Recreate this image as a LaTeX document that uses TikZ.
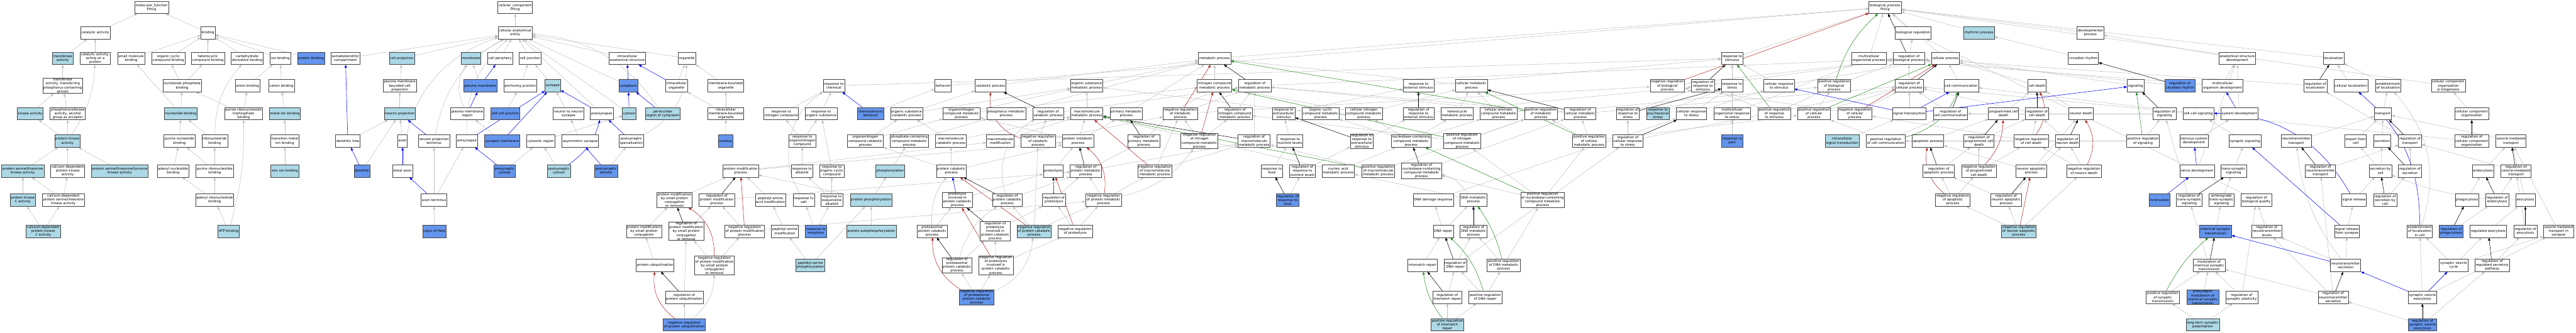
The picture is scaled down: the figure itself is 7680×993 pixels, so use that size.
\documentclass[tikz,border=0pt]{standalone}
\usepackage{fontspec}
\newfontfamily\gofont{DejaVu Sans}
\usetikzlibrary{arrows.meta}
\definecolor{lbfill}{HTML}{ADD8E6}
\definecolor{cbfill}{HTML}{6495ED}
\definecolor{edgegrey}{HTML}{C0C0C0}
\definecolor{edgered}{HTML}{B22222}
\definecolor{edgegreen}{HTML}{228B22}
\pgfdeclarelayer{bg}
\pgfsetlayers{bg,main}
\tikzset{
 nd/.style={draw=black!75, line width=1.1pt, fill=white, font=\gofont\fontsize{10}{11.4}\selectfont, align=center, inner xsep=2.5pt, inner ysep=1pt, minimum height=37pt},
 lb/.style={nd, fill=lbfill},
 cb/.style={nd, fill=cbfill},
 eg/.style={draw=edgegrey, line width=1pt, -{Triangle[length=9pt,width=7pt]}},
 ek/.style={eg, draw=black},
 er/.style={eg, draw=edgered},
 en/.style={eg, draw=edgegreen},
 eb/.style={eg, draw=blue},
}
\def\rA{22}\def\rB{98}\def\rC{174}\def\rD{256}\def\rE{339}\def\rF{421}
\def\rG{510}\def\rH{597}\def\rI{690}\def\rJ{792}\def\rK{887}\def\rL{969}
\begin{document}
\begin{tikzpicture}[x=1pt,y=-1pt]
\useasboundingbox (0,0) rectangle (7680,993);
% ---------------- molecular function
\node[nd] (mf) at (452,\rA) {molecular\_function\\Prkcg};
\node[nd] (catalytic) at (284,\rB) {catalytic activity};
\node[nd] (binding) at (620,\rB) {binding};
\node[lb] (transferase) at (187,\rC) {transferase\\activity};
\node[nd] (catprot) at (284,\rC) {catalytic activity,\\acting on a\\protein};
\node[nd] (smallmol) at (391,\rC) {small molecule\\binding};
\node[nd] (orgcyc) at (502,\rC) {organic cyclic\\compound binding};
\node[nd] (hetcyc) at (620,\rC) {heterocyclic\\compound binding};
\node[nd] (carbo) at (737,\rC) {carbohydrate\\derivative binding};
\node[nd] (ionb) at (836,\rC) {ion binding};
\node[cb] (protbind) at (927,\rC) {protein binding};
\node[nd] (transphos) at (187,\rD) {transferase\\activity, transferring\\phosphorus-containing\\groups};
\node[nd] (nucphos) at (543,\rD) {nucleoside phosphate\\binding};
\node[nd] (anion) at (738,\rD) {anion binding};
\node[nd] (cation) at (839,\rD) {cation binding};
\node[lb] (kinase) at (90,\rE) {kinase activity};
\node[nd] (phosphotrans) at (202,\rE) {phosphotransferase\\activity, alcohol\\group as acceptor};
\node[lb] (nucbind) at (539,\rE) {nucleotide binding};
\node[nd] (prtb) at (726,\rE) {purine ribonucleoside\\triphosphate\\binding};
\node[lb] (metal) at (849,\rE) {metal ion binding};
\node[lb] (protkin) at (201,\rF) {protein kinase\\activity};
\node[nd] (purnuc) at (535,\rF) {purine nucleotide\\binding};
\node[nd] (ribonuc) at (640,\rF) {ribonucleotide\\binding};
\node[nd] (transmetal) at (849,\rF) {transition metal\\ion binding};
\node[lb] (pst) at (68,\rG) {protein serine/threonine\\kinase activity};
\node[nd] (cadpk) at (202,\rG) {calcium-dependent\\protein kinase\\activity};
\node[lb] (pstt) at (357,\rG) {protein serine/threonine/tyrosine\\kinase activity};
\node[nd] (adenyl) at (516,\rG) {adenyl nucleotide\\binding};
\node[nd] (purribo) at (640,\rG) {purine ribonucleotide\\binding};
\node[lb] (zinc) at (849,\rG) {zinc ion binding};
\node[lb] (pkc) at (68,\rH) {protein kinase\\C activity};
\node[nd] (cadpst) at (189,\rH) {calcium-dependent\\protein serine/threonine\\kinase activity};
\node[nd] (adenylribo) at (640,\rH) {adenyl ribonucleotide\\binding};
\node[lb] (cadpkc) at (129,\rI) {calcium-dependent\\protein kinase\\C activity};
\node[lb] (atp) at (682,\rI) {ATP binding};
% ---------------- cellular component
\node[nd] (cc) at (1536,\rA) {cellular\_component\\Prkcg};
\node[nd] (cae) at (1536,\rB) {cellular anatomical\\entity};
\node[nd] (somato) at (1030,\rC) {somatodendritic\\compartment};
\node[lb] (cellproj) at (1198,\rC) {cell projection};
\node[lb] (membrane) at (1404,\rC) {membrane};
\node[nd] (cellperiph) at (1491,\rC) {cell periphery};
\node[nd] (celljunc) at (1580,\rC) {cell junction};
\node[nd] (intracell) at (1870,\rC) {intracellular\\anatomical structure};
\node[nd] (organelle) at (2048,\rC) {organelle};
\node[nd] (pmbcp) at (1192,\rD) {plasma membrane\\bounded cell\\projection};
\node[cb] (plasmamem) at (1432,\rD) {plasma membrane};
\node[nd] (anchor) at (1551,\rD) {anchoring junction};
\node[lb] (synapse) at (1648,\rD) {synapse};
\node[cb] (cytoplasm) at (1873,\rD) {cytoplasm};
\node[nd] (intorg) at (2017,\rD) {intracellular\\organelle};
\node[nd] (mbo) at (2164,\rD) {membrane-bounded\\organelle};
\node[lb] (neuproj) at (1192,\rE) {neuron projection};
\node[nd] (pmr) at (1393,\rE) {plasma membrane\\region};
\node[cb] (cellcell) at (1506,\rE) {cell-cell junction};
\node[nd] (n2n) at (1695,\rE) {neuron to neuron\\synapse};
\node[nd] (postsyn) at (1794,\rE) {postsynapse};
\node[lb] (cytosol) at (1876,\rE) {cytosol};
\node[lb] (perinuc) at (1976,\rE) {perinuclear\\region of cytoplasm};
\node[nd] (imbo) at (2164,\rE) {intracellular\\membrane-bounded\\organelle};
\node[nd] (dendtree) at (1037,\rF) {dendritic tree};
\node[nd] (axon) at (1200,\rF) {axon};
\node[nd] (neuprojterm) at (1294,\rF) {neuron projection\\terminus};
\node[nd] (presyn) at (1392,\rF) {presynapse};
\node[cb] (synmem) at (1497,\rF) {synaptic membrane};
\node[nd] (cytoreg) at (1612,\rF) {cytosolic region};
\node[nd] (asym) at (1730,\rF) {asymmetric synapse};
\node[nd] (pss) at (1882,\rF) {postsynaptic\\specialization};
\node[cb] (nucleus) at (2163,\rF) {nucleus};
\node[cb] (dendrite) at (1079,\rG) {dendrite};
\node[nd] (distaxon) at (1200,\rG) {distal axon};
\node[cb] (precyto) at (1504,\rG) {presynaptic\\cytosol};
\node[lb] (postcyto) at (1666,\rG) {postsynaptic\\cytosol};
\node[cb] (psd) at (1807,\rG) {postsynaptic\\density};
\node[nd] (axonterm) at (1294,\rH) {axon terminus};
\node[cb] (calyx) at (1295,\rI) {calyx of Held};
% ---------------- protein modification / responses
\node[nd] (pmsmall) at (1920,\rI) {protein modification\\by small protein\\conjugation};
\node[nd] (protubiq) at (1953,\rJ) {protein ubiquitination};
\node[nd] (protmod) at (2208,\rG) {protein modification\\process};
\node[nd] (pmsmallrem) at (2011,\rH) {protein modification\\by small protein\\conjugation\\or removal};
\node[nd] (regpm) at (2137,\rH) {regulation of\\protein modification\\process};
\node[nd] (peptaa) at (2297,\rH) {peptidyl-amino\\acid modification};
\node[nd] (regpmsmall) at (2046,\rI) {regulation of\\protein modification\\by small protein\\conjugation\\or removal};
\node[nd] (negregpm) at (2220,\rI) {negative regulation\\of protein modification\\process};
\node[nd] (peptser) at (2340,\rI) {peptidyl-serine\\modification};
\node[nd] (negregpmsmall) at (2130,\rJ) {negative regulation\\of protein modification\\by small protein\\conjugation\\or removal};
\node[lb] (peptserphos) at (2416,\rJ) {peptidyl-serine\\phosphorylation};
\node[nd] (regprotubiq) at (2040,\rK) {regulation of\\protein ubiquitination};
\node[cb] (negregprotubiq) at (2040,\rL) {negative regulation\\of protein ubiquitination};
\node[nd] (resp_chem) at (2486,\rD) {response to\\chemical};
\node[nd] (resp_nitro) at (2329,\rE) {response to\\nitrogen compound};
\node[nd] (resp_orgsub) at (2448,\rE) {response to\\organic substance};
\node[cb] (chemosens) at (2596,\rE) {chemosensory\\behavior};
\node[nd] (resp_orgN) at (2392,\rF) {response to\\organonitrogen\\compound};
\node[nd] (orgNcat) at (2580,\rF) {organonitrogen\\compound catabolic\\process};
\node[nd] (resp_alk) at (2391,\rG) {response to\\alkaloid};
\node[nd] (resp_orgcyc) at (2480,\rG) {response to\\organic cyclic\\compound};
\node[nd] (resp_salt) at (2396,\rH) {response to\\salt};
\node[nd] (resp_isoq) at (2480,\rH) {response to\\isoquinoline\\alkaloid};
\node[lb] (protphos) at (2597,\rH) {protein phosphorylation};
\node[cb] (resp_morph) at (2432,\rI) {response to\\morphine};
\node[lb] (protautophos) at (2598,\rI) {protein autophosphorylation};
% ---------------- catabolism
\node[nd] (behavior) at (2812,\rD) {behavior};
\node[nd] (catab) at (2953,\rD) {catabolic process};
\node[nd] (orgmet) at (3240,\rD) {organic substance\\metabolic process};
\node[nd] (orgsubcat) at (2703,\rE) {organic substance\\catabolic process};
\node[nd] (orgNmet) at (2866,\rE) {organonitrogen\\compound metabolic\\process};
\node[nd] (phosphmet) at (3000,\rE) {phosphorus metabolic\\process};
\node[nd] (regcatab) at (3125,\rE) {regulation of\\catabolic process};
\node[nd] (macmet) at (3240,\rE) {macromolecule\\metabolic process};
\node[nd] (phoscontain) at (2711,\rF) {phosphate-containing\\compound metabolic\\process};
\node[nd] (maccat) at (2835,\rF) {macromolecule\\catabolic process};
\node[nd] (macmod) at (2982,\rF) {macromolecule\\modification};
\node[nd] (negregcat) at (3095,\rF) {negative regulation\\of catabolic\\process};
\node[nd] (protmet) at (3214,\rF) {protein metabolic\\process};
\node[lb] (phosphorylation) at (2654,\rG) {phosphorylation};
\node[nd] (protcat) at (2836,\rG) {protein catabolic\\process};
\node[nd] (proteolysis) at (3140,\rG) {proteolysis};
\node[nd] (regprotmet) at (3237,\rG) {regulation of\\protein metabolic\\process};
\node[nd] (prolyinvolved) at (2854,\rH) {proteolysis\\involved in\\protein catabolic\\process};
\node[nd] (regprotcat) at (3003,\rH) {regulation of\\protein catabolic\\process};
\node[nd] (regproteolysis) at (3142,\rH) {regulation of\\proteolysis};
\node[nd] (negregprotmet) at (3290,\rH) {negative regulation\\of protein metabolic\\process};
\node[nd] (proteasomal) at (2779,\rI) {proteasomal\\protein catabolic\\process};
\node[nd] (regprolyinv) at (2967,\rI) {regulation of\\proteolysis\\involved in\\protein catabolic\\process};
\node[lb] (negregprotcat) at (3083,\rI) {negative regulation\\of protein catabolic\\process};
\node[nd] (negregproteolysis) at (3206,\rI) {negative regulation\\of proteolysis};
\node[nd] (regproteasomal) at (2853,\rJ) {regulation of\\proteasomal\\protein catabolic\\process};
\node[nd] (negregprolyinv) at (2969,\rJ) {negative regulation\\of proteolysis\\involved in\\protein catabolic\\process};
\node[cb] (negregproteasomal) at (2912,\rK) {negative regulation\\of proteasomal\\protein catabolic\\process};
% ---------------- metabolism
\node[nd] (metproc) at (3621,\rC) {metabolic process};
\node[nd] (nitromet) at (3621,\rD) {nitrogen compound\\metabolic process};
\node[nd] (regmet) at (3741,\rD) {regulation of\\metabolic process};
\node[nd] (primmet) at (3358,\rE) {primary metabolic\\process};
\node[nd] (negregmet) at (3519,\rE) {negative regulation\\of metabolic\\process};
\node[nd] (regnitromet) at (3682,\rE) {regulation of\\nitrogen compound\\metabolic process};
\node[nd] (resp_extracell) at (3827,\rE) {response to\\extracellular\\stimulus};
\node[nd] (regprimmet) at (3410,\rF) {regulation of\\primary metabolic\\process};
\node[nd] (negregnitromet) at (3576,\rF) {negative regulation\\of nitrogen\\compound metabolic\\process};
\node[nd] (regmacmet) at (3739,\rF) {regulation of\\macromolecule\\metabolic process};
\node[nd] (resp_nutr) at (3846,\rF) {response to\\nutrient levels};
\node[nd] (negregmacmet) at (3443,\rG) {negative regulation\\of macromolecule\\metabolic process};
\node[nd] (resp_food) at (3792,\rG) {response to\\food};
\node[nd] (regresp_nutr) at (3883,\rG) {regulation of\\response to\\nutrient levels};
\node[cb] (regresp_food) at (3839,\rH) {regulation of\\response to\\food};
\node[nd] (resp_ext) at (4229,\rD) {response to\\external stimulus};
\node[nd] (cellmet) at (4387,\rD) {cellular metabolic\\process};
\node[nd] (orgcycmet) at (3937,\rE) {organic cyclic\\compound metabolic\\process};
\node[nd] (cellNmet) at (4066,\rE) {cellular nitrogen\\compound metabolic\\process};
\node[nd] (regresp_ext) at (4229,\rE) {regulation of\\response to\\external stimulus};
\node[nd] (hetmet) at (4344,\rE) {heterocycle\\metabolic process};
\node[nd] (cellarom) at (4468,\rE) {cellular aromatic\\compound metabolic\\process};
\node[nd] (regresp_extracell) at (4060,\rF) {regulation of\\response to\\extracellular\\stimulus};
\node[nd] (nucleobase) at (4207,\rF) {nucleobase-containing\\compound metabolic\\process};
\node[nd] (posregnitro) at (4359,\rF) {positive regulation\\of nitrogen\\compound metabolic\\process};
\node[nd] (nucacid) at (3990,\rG) {nucleic acid\\metabolic process};
\node[nd] (posregmacmet) at (4109,\rG) {positive regulation\\of macromolecule\\metabolic process};
\node[nd] (regnucleobase) at (4238,\rG) {regulation of\\nucleobase-containing\\compound metabolic\\process};
\node[nd] (dnadamage) at (4273,\rH) {DNA damage response};
\node[nd] (dnamet) at (4393,\rH) {DNA metabolic\\process};
\node[nd] (dnarepair) at (4303,\rI) {DNA repair};
\node[nd] (regdnamet) at (4393,\rI) {regulation of\\DNA metabolic\\process};
\node[nd] (mismatch) at (4241,\rJ) {mismatch repair};
\node[nd] (regdnarepair) at (4339,\rJ) {regulation of\\DNA repair};
\node[nd] (posregdnamet) at (4483,\rJ) {positive regulation\\of DNA metabolic\\process};
\node[nd] (regmismatch) at (4315,\rK) {regulation of\\mismatch repair};
\node[nd] (posregdnarepair) at (4428,\rK) {positive regulation\\of DNA repair};
\node[lb] (posregmismatch) at (4315,\rL) {positive regulation\\of mismatch\\repair};
\node[nd] (negregbio) at (4971,\rD) {negative regulation\\of biological\\process};
\node[nd] (regresp_stim) at (5077,\rD) {regulation of\\response to\\stimulus};
\node[nd] (posregmet) at (4594,\rE) {positive regulation\\of metabolic\\process};
\node[nd] (regcellmet) at (4711,\rE) {regulation of\\cellular metabolic\\process};
\node[nd] (regresp_stress) at (4853,\rE) {regulation of\\response to\\stress};
\node[lb] (resp_psycho) at (4943,\rE) {response to\\psychosocial\\stress};
\node[nd] (cellresp_stress) at (5043,\rE) {cellular response\\to stress};
\node[nd] (multiorgresp) at (5164,\rE) {multicellular\\organismal response\\to stress};
\node[nd] (posregcellmet) at (4738,\rF) {positive regulation\\of cellular\\metabolic process};
\node[nd] (regcellresp_stress) at (4853,\rF) {regulation of\\cellular response\\to stress};
\node[nd] (posregnucleobase) at (4599,\rH) {positive regulation\\of nucleobase-containing\\compound metabolic\\process};
% ---------------- biological process
\node[nd] (bp) at (5620,\rA) {biological\_process\\Prkcg};
\node[nd] (bioreg) at (5704,\rB) {biological regulation};
\node[nd] (resp_stim) at (5164,\rC) {response to\\stimulus};
\node[nd] (multiorg) at (5572,\rC) {multicellular\\organismal process};
\node[nd] (regbio) at (5691,\rC) {regulation of\\biological process};
\node[nd] (cellproc) at (5800,\rC) {cellular process};
\node[nd] (resp_stress) at (5164,\rD) {response to\\stress};
\node[nd] (cellresp_stim) at (5304,\rD) {cellular response\\to stimulus};
\node[nd] (posregbio) at (5468,\rD) {positive regulation\\of biological\\process};
\node[nd] (regcellproc) at (5692,\rD) {regulation of\\cellular process};
\node[nd] (posregresp) at (5290,\rE) {positive regulation\\of response\\to stimulus};
\node[nd] (posregcellproc) at (5408,\rE) {positive regulation\\of cellular\\process};
\node[nd] (negregcellproc) at (5530,\rE) {negative regulation\\of cellular\\process};
\node[nd] (sigtrans) at (5692,\rE) {signal transduction};
\node[cb] (resp_pain) at (5164,\rF) {response to\\pain};
\node[lb] (intrasig) at (5492,\rF) {intracellular\\signal transduction};
\node[nd] (posregcellcomm) at (5622,\rF) {positive regulation\\of cell communication};
\node[nd] (apoptotic) at (5748,\rF) {apoptotic process};
\node[nd] (regapop) at (5780,\rG) {regulation of\\apoptotic process};
\node[lb] (rhythmic) at (5900,\rB) {rhythmic process};
\node[nd] (devproc) at (6232,\rB) {developmental\\process};
\node[nd] (circadian) at (6211,\rC) {circadian rhythm};
\node[nd] (cellcomm) at (5847,\rD) {cell communication};
\node[nd] (celldeath) at (6073,\rD) {cell death};
\node[nd] (signaling) at (6367,\rD) {signaling};
\node[nd] (regcellcomm) at (5815,\rE) {regulation of\\cell communication};
\node[nd] (pcd) at (5973,\rE) {programmed cell\\death};
\node[nd] (regcelldeath) at (6073,\rE) {regulation of\\cell death};
\node[nd] (neurondeath) at (6204,\rE) {neuron death};
\node[nd] (regpcd) at (5900,\rF) {regulation of\\programmed cell\\death};
\node[nd] (negregcelldeath) at (6056,\rF) {negative regulation\\of cell death};
\node[nd] (regneurondeath) at (6164,\rF) {regulation of\\neuron death};
\node[nd] (posregsig) at (6389,\rF) {positive regulation\\of signaling};
\node[nd] (negregpcd) at (5900,\rG) {negative regulation\\of programmed\\cell death};
\node[nd] (neuronapop) at (6056,\rG) {neuron apoptotic\\process};
\node[nd] (negregneurondeath) at (6213,\rG) {negative regulation\\of neuron death};
\node[nd] (negregapop) at (5822,\rH) {negative regulation\\of apoptotic\\process};
\node[nd] (regneuronapop) at (5981,\rH) {regulation of\\neuron apoptotic\\process};
\node[lb] (negregneuronapop) at (6019,\rI) {negative regulation\\of neuron apoptotic\\process};
% ---------------- development / synapse
\node[nd] (anatdev) at (6670,\rC) {anatomical structure\\development};
\node[nd] (localization) at (6957,\rC) {localization};
\node[cb] (regcirc) at (6499,\rD) {regulation of\\circadian rhythm};
\node[nd] (multidev) at (6626,\rD) {multicellular\\organism development};
\node[nd] (regloc) at (6903,\rD) {regulation of\\localization};
\node[nd] (cellloc) at (7009,\rD) {cellular localization};
\node[nd] (regsig) at (6453,\rE) {regulation of\\signaling};
\node[nd] (cellcellsig) at (6554,\rE) {cell-cell signaling};
\node[nd] (sysdev) at (6676,\rE) {system development};
\node[nd] (nsdev) at (6541,\rF) {nervous system\\development};
\node[nd] (synsig) at (6693,\rF) {synaptic signaling};
\node[nd] (nttransport) at (6846,\rF) {neurotransmitter\\transport};
\node[nd] (exportcell) at (7023,\rF) {export from\\cell};
\node[nd] (nervedev) at (6550,\rG) {nerve development};
\node[nd] (transsyn) at (6659,\rG) {trans-synaptic\\signaling};
\node[nd] (regnttrans) at (6918,\rG) {regulation of\\neurotransmitter\\transport};
\node[cb] (innervation) at (6438,\rH) {innervation};
\node[nd] (regtranssyn) at (6527,\rH) {regulation of\\trans-synaptic\\signaling};
\node[nd] (anterograde) at (6623,\rH) {anterograde\\trans-synaptic\\signaling};
\node[nd] (regbioqual) at (6727,\rH) {regulation of\\biological quality};
\node[nd] (sigrelease) at (7018,\rH) {signal release};
\node[cb] (chemsyn) at (6605,\rI) {chemical synaptic\\transmission};
\node[nd] (regntlevels) at (6758,\rI) {regulation of\\neurotransmitter\\levels};
\node[nd] (sigrelsyn) at (6997,\rI) {signal release\\from synapse};
\node[nd] (modchem) at (6586,\rJ) {modulation of\\chemical synaptic\\transmission};
\node[nd] (ntsecretion) at (6993,\rJ) {neurotransmitter\\secretion};
\node[nd] (posregsyntrans) at (6448,\rK) {positive regulation\\of synaptic\\transmission};
\node[cb] (presynmod) at (6567,\rK) {presynaptic\\modulation of\\chemical synaptic\\transmission};
\node[nd] (regsynplast) at (6683,\rK) {regulation of\\synaptic plasticity};
\node[nd] (regntsec) at (6956,\rK) {regulation of\\neurotransmitter\\secretion};
\node[lb] (ltp) at (6567,\rL) {long-term synaptic\\potentiation};
\node[nd] (estloc) at (7120,\rD) {establishment\\of localization};
\node[nd] (ccob) at (7299,\rD) {cellular component\\organization\\or biogenesis};
\node[nd] (transport) at (7104,\rE) {transport};
\node[nd] (cco) at (7369,\rE) {cellular component\\organization};
\node[nd] (secretion) at (7102,\rF) {secretion};
\node[nd] (regtransport) at (7185,\rF) {regulation of\\transport};
\node[nd] (regcco) at (7369,\rF) {regulation of\\cellular component\\organization};
\node[nd] (vesmed) at (7486,\rF) {vesicle-mediated\\transport};
\node[nd] (secbycell) at (7097,\rG) {secretion by\\cell};
\node[nd] (regsecretion) at (7185,\rG) {regulation of\\secretion};
\node[nd] (endocytosis) at (7403,\rG) {endocytosis};
\node[nd] (regvesmed) at (7501,\rG) {regulation of\\vesicle-mediated\\transport};
\node[nd] (regsecbycell) at (7111,\rH) {regulation of\\secretion by\\cell};
\node[nd] (phagocytosis) at (7355,\rH) {phagocytosis};
\node[nd] (regendo) at (7445,\rH) {regulation of\\endocytosis};
\node[nd] (exocytosis) at (7529,\rH) {exocytosis};
\node[nd] (estlocincell) at (7214,\rI) {establishment\\of localization\\in cell};
\node[cb] (regphago) at (7308,\rI) {regulation of\\phagocytosis};
\node[nd] (regulatedexo) at (7418,\rI) {regulated exocytosis};
\node[nd] (regexo) at (7529,\rI) {regulation of\\exocytosis};
\node[nd] (vesmedsyn) at (7628,\rI) {vesicle-mediated\\transport in\\synapse};
\node[nd] (synvescycle) at (7315,\rJ) {synaptic vesicle\\cycle};
\node[nd] (regregsec) at (7430,\rJ) {regulation of\\regulated secretory\\pathway};
\node[nd] (synvesexo) at (7222,\rK) {synaptic vesicle\\exocytosis};
\node[cb] (regsynvesexo) at (7222,\rL) {regulation of\\synaptic vesicle\\exocytosis};
% ================= edges
\begin{pgfonlayer}{bg}
\foreach \a/\b in {catalytic/mf, binding/mf, transferase/catalytic, catprot/catalytic, smallmol/binding, orgcyc/binding, hetcyc/binding, carbo/binding, ionb/binding, protbind/binding, transphos/transferase, nucphos/orgcyc, nucphos/hetcyc, kinase/transphos, phosphotrans/transphos, nucbind/nucphos, nucbind/smallmol, purnuc/nucbind, ribonuc/nucbind, protkin/kinase, protkin/phosphotrans, pst/protkin, cadpk/protkin, pstt/protkin, adenyl/purnuc, purribo/purnuc, purribo/ribonuc, pkc/pst, cadpst/pst, cadpst/cadpk, adenylribo/adenyl, adenylribo/purribo, cadpkc/pkc, cadpkc/cadpst, anion/ionb, cation/ionb, prtb/anion, prtb/nucphos, metal/cation, transmetal/metal, zinc/transmetal, atp/adenylribo,
cae/cc, membrane/cae, cellperiph/cae, celljunc/cae, somato/cae, cellproj/cae, intracell/cae, organelle/cae, pmbcp/cellproj, neuproj/pmbcp, dendtree/neuproj, axon/neuproj, dendrite/neuproj, axonterm/neuprojterm, axonterm/presyn, calyx/axonterm, plasmamem/membrane, anchor/celljunc, synapse/celljunc, cellcell/anchor, n2n/synapse, postsyn/cae, cytoplasm/cae, cytosol/cae, synmem/pmr, cytoreg/cytosol, asym/n2n, precyto/cytoreg, postcyto/cytoreg, psd/pss, intorg/organelle, mbo/organelle, imbo/intorg, imbo/mbo, nucleus/imbo}
 {\draw[eg] (\a) -- (\b);}
\foreach \a/\b in {resp_nitro/resp_chem, resp_orgsub/resp_chem, resp_chem/resp_stim, resp_orgN/resp_nitro, resp_orgN/resp_orgsub, resp_orgcyc/resp_orgsub, resp_alk/resp_orgN, resp_isoq/resp_alk, resp_isoq/resp_orgcyc, resp_morph/resp_salt, resp_morph/resp_isoq, protmod/macmod, protmod/protmet, pmsmallrem/protmod, regpm/regprotmet, negregpm/regpm, negregpm/negregprotmet, peptaa/protmod, protphos/protmod, protphos/phosphorylation, pmsmall/pmsmallrem, regpmsmall/regpm, negregpmsmall/regpmsmall, negregpmsmall/negregpm, peptser/peptaa, peptserphos/peptser, peptserphos/protphos, protubiq/pmsmall, regprotubiq/regpmsmall, negregprotubiq/regprotubiq, protautophos/protphos, chemosens/behavior, behavior/bp, orgsubcat/catab, orgsubcat/orgmet, orgNmet/orgmet, orgNmet/nitromet, catab/metproc, regcatab/regmet, negregcat/regcatab, negregcat/negregmet, orgNcat/orgsubcat, orgNcat/orgNmet, phosphorylation/phoscontain, phoscontain/phosphmet, phosphmet/metproc, maccat/orgsubcat, maccat/macmet, macmod/macmet, protcat/maccat, protcat/orgNcat, protcat/protmet, proteolysis/protmet, prolyinvolved/proteolysis, regprotcat/regprotmet, regproteolysis/regprotmet, proteasomal/prolyinvolved, regprolyinv/regproteolysis, negregprotcat/regprotcat, negregprotcat/negregcat, negregprotcat/negregprotmet, negregproteolysis/regproteolysis, negregproteolysis/negregprotmet, regproteasomal/regprolyinv, negregprolyinv/regprolyinv, negregprolyinv/negregproteolysis, negregproteasomal/regproteasomal, negregproteasomal/negregprolyinv}
 {\draw[eg] (\a) -- (\b);}
\foreach \a/\b in {orgmet/metproc, nitromet/metproc, metproc/bp, regmet/regbio, macmet/orgmet, primmet/metproc, negregmet/regmet, negregmet/negregbio, regnitromet/regmet, protmet/macmet, protmet/orgNmet, protmet/primmet, negregnitromet/regnitromet, negregnitromet/negregmet, regmacmet/regmet, regprotmet/regmacmet, regprotmet/regprimmet, negregmacmet/regmacmet, negregmacmet/negregmet, negregprotmet/regprotmet, negregprotmet/negregmacmet, resp_food/resp_nutr, regresp_food/regresp_nutr, resp_nutr/resp_extracell, resp_extracell/resp_ext, resp_ext/resp_stim, cellmet/metproc, regresp_ext/regresp_stim, hetmet/cellmet, cellarom/cellmet, cellNmet/cellmet, cellNmet/nitromet, orgcycmet/orgmet, regresp_extracell/regresp_ext, nucleobase/cellNmet, nucleobase/hetmet, nucleobase/cellarom, nucleobase/orgcycmet, posregnitro/regnitromet, posregnitro/posregmet, regresp_nutr/regresp_extracell, nucacid/nucleobase, nucacid/macmet, posregmacmet/regmacmet, posregmacmet/posregmet, regnucleobase/regcellmet, dnadamage/cellresp_stress, dnamet/nucacid, dnarepair/dnadamage, dnarepair/dnamet, mismatch/dnarepair, regdnarepair/regdnamet, regdnarepair/regcellresp_stress, posregdnamet/regdnamet, posregdnamet/posregnucleobase, regmismatch/regdnarepair, posregdnarepair/regdnarepair, posregdnarepair/posregdnamet, posregmismatch/regmismatch, posregmismatch/posregdnarepair,
negregbio/regbio, regresp_stim/regbio, posregmet/regmet, posregmet/posregbio, regcellmet/regmet, regcellmet/regcellproc, regresp_stress/regresp_stim, resp_psycho/resp_stress, cellresp_stress/resp_stress, cellresp_stress/cellresp_stim, posregcellmet/regcellmet, posregcellmet/posregmet, posregcellmet/posregcellproc, regcellresp_stress/regresp_stress, regcellresp_stress/regcellproc, posregnucleobase/regnucleobase, posregnucleobase/posregcellmet, posregnucleobase/posregnitro, multiorgresp/resp_stress, multiorgresp/multiorg}
 {\draw[eg] (\a) -- (\b);}
\foreach \a/\b in {bioreg/bp, resp_stim/bp, multiorg/bp, regbio/bioreg, cellproc/bp, resp_stress/resp_stim, cellresp_stim/resp_stim, cellresp_stim/cellproc, posregbio/regbio, regcellproc/regbio, posregresp/regresp_stim, posregresp/posregbio, posregcellproc/regcellproc, posregcellproc/posregbio, negregcellproc/regcellproc, negregcellproc/negregbio, sigtrans/regcellproc, resp_pain/multiorgresp, intrasig/sigtrans, posregcellcomm/regcellcomm, posregcellcomm/posregcellproc, apoptotic/pcd, regapop/regpcd,
rhythmic/bp, devproc/bp, circadian/rhythmic, cellcomm/cellproc, celldeath/cellproc, signaling/cellproc, regcellcomm/regcellproc, pcd/celldeath, regcelldeath/regcellproc, neurondeath/celldeath, regpcd/regcelldeath, negregcelldeath/regcelldeath, negregcelldeath/negregcellproc, regneurondeath/regcelldeath, posregsig/regsig, posregsig/posregcellcomm, negregpcd/regpcd, negregpcd/negregcelldeath, neuronapop/apoptotic, neuronapop/neurondeath, negregneurondeath/regneurondeath, negregneurondeath/negregcelldeath, negregapop/regapop, negregapop/negregpcd, regneuronapop/regapop, regneuronapop/regneurondeath, negregneuronapop/regneuronapop, negregneuronapop/negregapop, negregneuronapop/negregneurondeath,
anatdev/devproc, localization/bp, regcirc/regbio, multidev/anatdev, multidev/multiorg, regloc/regbio, cellloc/localization, regsig/regcellcomm, cellcellsig/cellcomm, sysdev/anatdev, nsdev/sysdev, synsig/cellcellsig, nttransport/transport, exportcell/transport, nervedev/anatdev, transsyn/synsig, regnttrans/regtransport, regtranssyn/regsig, anterograde/transsyn, regbioqual/bioreg, chemsyn/anterograde, regntlevels/regbioqual, sigrelsyn/sigrelease, modchem/regtranssyn, ntsecretion/sigrelsyn, ntsecretion/regntlevels, posregsyntrans/modchem, presynmod/modchem, regsynplast/modchem, regsynplast/regbioqual, regntsec/regntlevels, regntsec/regnttrans, regntsec/modchem, ltp/posregsyntrans, ltp/regsynplast, sigrelease/secbycell,
estloc/localization, ccob/bp, transport/estloc, cco/ccob, secretion/transport, regtransport/regloc, regcco/regcellproc, vesmed/transport, secbycell/secretion, secbycell/exportcell, regsecretion/regtransport, endocytosis/vesmed, regvesmed/regtransport, regsecbycell/regsecretion, phagocytosis/endocytosis, regendo/regvesmed, exocytosis/vesmed, regphago/regendo, regulatedexo/exocytosis, regexo/regvesmed, vesmedsyn/vesmed, synvescycle/estlocincell, synvescycle/vesmedsyn, regregsec/regexo, synvesexo/estlocincell, synvesexo/regulatedexo, synvesexo/vesmedsyn, regsynvesexo/regregsec, regsynvesexo/regntsec}
 {\draw[eg] (\a) -- (\b);}
\foreach \a/\b/\c in {protkin/catprot/-15, ribonuc/carbo/20, atp/prtb/-8, distaxon/cae/35, pmr/membrane/30, presyn/cae/25, neuprojterm/cae/25, perinuc/cae/-25, pss/organelle/-30, resp_salt/resp_chem/45, regprotcat/regcatab/40, proteasomal/protcat/20, regproteasomal/regprotcat/20, negregproteasomal/negregprotcat/-30, negregprotubiq/negregpmsmall/-25, regprimmet/regmet/20, negregprotmet/negregnitromet/-20, regdnamet/regnucleobase/-40, ntsecretion/nttransport/15, exocytosis/secbycell/10, estlocincell/estloc/-30}
 {\draw[eg] (\a) to[bend left=\c] (\b);}
% regulates (black)
\foreach \a/\b in {regpm/protmod, regpmsmall/pmsmallrem, regprotubiq/protubiq, regcatab/catab, regprotcat/protcat, regproteolysis/proteolysis, regprolyinv/prolyinvolved, regproteasomal/proteasomal, regmet/metproc, regnitromet/nitromet, regprimmet/primmet, regmacmet/macmet, regprotmet/protmet, regresp_food/resp_food, regresp_ext/resp_ext, regresp_extracell/resp_extracell, regresp_nutr/resp_nutr, regnucleobase/nucleobase, regdnamet/dnamet, regdnarepair/dnarepair, regmismatch/mismatch, regresp_stim/resp_stim, regcellmet/cellmet, regresp_stress/resp_stress, regcellresp_stress/cellresp_stress, regbio/bp, regcellproc/cellproc, regapop/apoptotic, regcellcomm/cellcomm, regcelldeath/celldeath, regpcd/pcd, regneurondeath/neurondeath, regneuronapop/neuronapop, regcirc/circadian, regloc/localization, regsig/signaling, regnttrans/nttransport, regtranssyn/transsyn, modchem/chemsyn, regntsec/ntsecretion, regtransport/transport, regcco/cco, regsecretion/secretion, regvesmed/vesmed, regsecbycell/secbycell, regendo/endocytosis, regphago/phagocytosis, regexo/exocytosis, regregsec/regulatedexo, regsynvesexo/synvesexo}
 {\draw[ek] (\a) -- (\b);}
% negatively regulates (red)
\foreach \a/\b in {negregpm/protmod, negregprotcat/protcat, negregproteolysis/proteolysis, negregprolyinv/prolyinvolved, negregmet/metproc, negregnitromet/nitromet, negregmacmet/macmet, negregbio/bp, negregcellproc/cellproc, negregneuronapop/neuronapop}
 {\draw[er] (\a) -- (\b);}
\foreach \a/\b/\c in {negregpmsmall/pmsmallrem/-30, negregprotubiq/protubiq/30, negregcat/catab/40, negregproteasomal/proteasomal/30, negregprotmet/protmet/-30, negregcelldeath/celldeath/-30, negregpcd/pcd/-20, negregneurondeath/neurondeath/-30, negregapop/apoptotic/30}
 {\draw[er] (\a) to[bend left=\c] (\b);}
% positively regulates (green)
\foreach \a/\b in {posregmet/metproc, posregnitro/nitromet, posregmacmet/macmet, posregcellmet/cellmet, posregnucleobase/nucleobase, posregresp/resp_stim, posregcellproc/cellproc, posregsig/signaling}
 {\draw[en] (\a) -- (\b);}
\foreach \a/\b/\c in {posregdnamet/dnamet/-10, posregdnarepair/dnarepair/-15, posregmismatch/mismatch/15, posregbio/bp/15, posregcellcomm/cellcomm/-25, posregsyntrans/chemsyn/10}
 {\draw[en] (\a) to[bend left=\c] (\b);}
% part of (blue)
\foreach \a/\b in {plasmamem/cellperiph, dendtree/somato, neuprojterm/neuproj, dendrite/dendtree, distaxon/axon, axonterm/distaxon, pmr/plasmamem, postsyn/synapse, cytoplasm/intracell, cytosol/cytoplasm, presyn/synapse, synmem/synapse, pss/postsyn, precyto/presyn, psd/asym, intorg/intracell, perinuc/cytoplasm, chemosens/resp_chem, prolyinvolved/protcat, sigtrans/cellresp_stim, sigtrans/signaling, sigtrans/cellcomm, sysdev/multidev, nervedev/nsdev, innervation/nervedev, sigrelsyn/synsig, ntsecretion/chemsyn, synvesexo/synvescycle, synvesexo/ntsecretion}
 {\draw[eb] (\a) -- (\b);}
\foreach \a/\b/\c in {postcyto/postsyn/-20, sigrelease/cellcellsig/-30, estlocincell/cellloc/-25}
 {\draw[eb] (\a) to[bend left=\c] (\b);}
\end{pgfonlayer}
\end{tikzpicture}
\end{document}
